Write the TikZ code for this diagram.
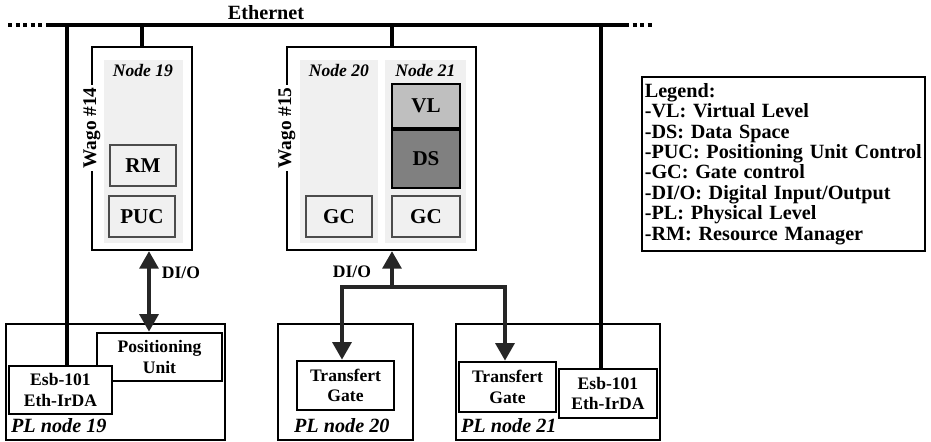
\documentclass[tikz,border=0pt]{standalone}
\usepackage{fontspec}
\setmainfont{Liberation Serif}
\usetikzlibrary{positioning,arrows.meta}

\begin{document}
\begin{tikzpicture}[
x=0.02cm, y=-0.02cm,
font=\fontsize{10}{11.5}\selectfont\bfseries,
wago/.style={draw, line width=1.2pt, minimum height=4.06cm},
panel/.style={fill=black!6, minimum height=3.66cm},
unit/.style={draw=black!70, line width=0.6pt, fill=black!6, minimum width=1.32cm, minimum height=0.82cm, font=\fontsize{12}{14}\selectfont\bfseries},
level/.style={draw, line width=1.2pt, minimum width=1.36cm, font=\fontsize{12}{14}\selectfont\bfseries},
dev/.style={draw, line width=1.4pt, fill=white, minimum height=0.96cm, align=center},
plbox/.style={draw, line width=0.7pt, minimum height=2.32cm},
caption/.style={font=\fontsize{10}{11.5}\selectfont\bfseries\itshape},
plcaption/.style={font=\fontsize{11.5}{13}\selectfont\bfseries\itshape, anchor=west, inner sep=1pt},
side/.style={rotate=90, fill=white, inner sep=1.5pt, font=\fontsize{11}{13}\selectfont\bfseries},
bus/.style={line width=2.3pt},
dio/.style={line width=2.8pt, black!85, line join=miter},
>={Triangle[length=10pt,width=10.5pt]}
]
\useasboundingbox (0,0) rectangle (931,442);

% Ethernet
\coordinate (ethLL) at (8,25);
\coordinate (ethL) at (50,25);
\coordinate (ethR) at (625,25);
\coordinate (ethRR) at (655,25);
\draw[bus] (ethL) -- (ethR);
\draw[bus, dash pattern=on 2.3pt off 2pt] (ethLL) -- (ethL);
\draw[bus, dash pattern=on 2.3pt off 2pt] (ethR) -- (ethRR);
\node[font=\fontsize{11.5}{13}\selectfont\bfseries] (eth) at (266,13) {Ethernet};

% Wago #14
\node[wago, minimum width=2cm] (wago14) at (142,148.5) {};
\node[panel, minimum width=1.58cm] (panel19) at (143.5,151.5) {};
\node[caption] (lab19) at (143,70) {Node 19};
\node[unit] (rm) at (143,165.5) {RM};
\node[unit] (puc) at (142,216.5) {PUC};
\node[side] (w14) at (92,128) {Wago \#14};

% Wago #15
\node[wago, minimum width=3.78cm] (wago15) at (381.5,148.5) {};
\node[panel, minimum width=1.56cm] (panel20) at (339,151.5) {};
\node[panel, minimum width=1.62cm] (panel21) at (425.5,151.5) {};
\node[caption] (lab20) at (339,70) {Node 20};
\node[caption] (lab21) at (425.5,70) {Node 21};
\node[level, fill=black!25, minimum height=0.88cm] (vl) at (426,106) {VL};
\node[level, fill=black!50, minimum height=1.16cm, below=0pt of vl] (ds) {DS};
\node[unit] (gc20) at (339,216.5) {GC};
\node[unit, minimum width=1.36cm] (gc21) at (426,216.5) {GC};
\node[side] (w15) at (287,128) {Wago \#15};

% Legend
\node[draw, line width=0.7pt, minimum width=5.66cm, minimum height=3.48cm, inner xsep=1.5pt, text width=5.55cm, align=left, font=\fontsize{11.5}{11.6}\selectfont\bfseries] (legend) at (783.5,164)
{Legend:\\-VL: Virtual Level\\-DS: Data Space\\-PUC: Positioning Unit Control\\-GC: Gate control\\-DI/O: Digital Input/Output\\-PL: Physical Level\\-RM: Resource Manager};

% PL node 19
\node[plbox, minimum width=4.38cm] (pl19) at (115.5,382) {};
\node[dev, minimum width=2.5cm] (pu) at (159.5,357) {Positioning\\Unit};
\node[dev, minimum width=2.06cm] (esb19) at (60.5,390) {Esb-101\\Eth-IrDA};
\node[plcaption] (pl19lab) at (9,426) {PL node 19};

% PL node 20
\node[plbox, minimum width=2.7cm] (pl20) at (345.5,382) {};
\node[dev, minimum width=1.94cm, minimum height=0.98cm] (tg20) at (345.5,385.5) {Transfert\\Gate};
\node[plcaption] (pl20lab) at (292,426) {PL node 20};

% PL node 21
\node[plbox, minimum width=4.08cm] (pl21) at (558,382) {};
\node[dev, minimum width=1.94cm, minimum height=1cm] (tg21) at (507.5,387) {Transfert\\Gate};
\node[dev, minimum width=1.96cm, minimum height=0.98cm] (esb21) at (608,393.5) {Esb-101\\Eth-IrDA};
\node[plcaption] (pl21lab) at (459,426) {PL node 21};

% drops to the bus
\draw[bus] (esb19.north -| 67,0) -- (ethL -| 67,0);
\draw[bus] (wago14.north) -- (wago14.north |- ethL);
\draw[bus] (wago15.north -| 392,0) -- (ethL -| 392,0);
\draw[bus] (esb21.north -| 601,0) -- (ethL -| 601,0);

% digital I/O
\draw[dio, <->] (wago14.south -| 149,0) -- (pu.north -| 149,0);
\node (dio19) at (181,273) {DI/O};
\coordinate (brM) at (392,287);
\coordinate (brL) at (342,287);
\coordinate (brR) at (505,287);
\draw[dio, ->] (brM) -- (wago15.south -| brM);
\draw[dio, <->] (brL |- tg20.north) -- (brL) -- (brR) -- (brR |- tg21.north);
\node (dio20) at (352,272) {DI/O};
\end{tikzpicture}
\end{document}
